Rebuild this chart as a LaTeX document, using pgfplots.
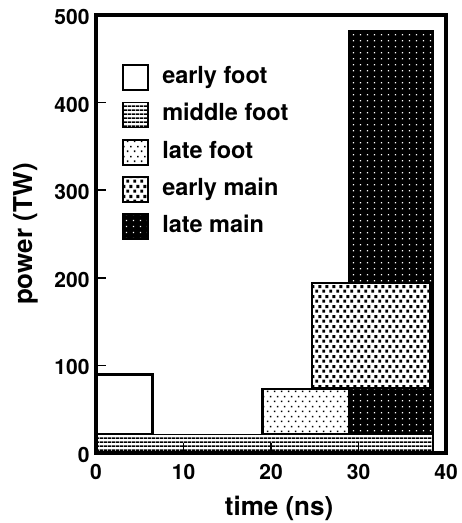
\documentclass[border=0pt]{standalone}
\usepackage{fontspec}
\setmainfont{TeX Gyre Heros}
\usepackage{pgfplots}
\pgfplotsset{compat=1.18}
\usetikzlibrary{patterns}

\pgfdeclarepatternformonly{hlinesP}{\pgfpoint{0pt}{0pt}}{\pgfpoint{4pt}{3.6pt}}{\pgfpoint{4pt}{3.6pt}}{%
  \pgfpathrectangle{\pgfpoint{-0.2pt}{0pt}}{\pgfpoint{4.4pt}{1.9pt}}\pgfusepath{fill}}
\pgfdeclarepatternformonly{sparsedots}{\pgfpoint{0pt}{0pt}}{\pgfpoint{7pt}{10pt}}{\pgfpoint{7pt}{10pt}}{%
  \pgfpathrectangle{\pgfpoint{1pt}{1pt}}{\pgfpoint{1.7pt}{1.7pt}}
  \pgfpathrectangle{\pgfpoint{4.5pt}{6pt}}{\pgfpoint{1.7pt}{1.7pt}}\pgfusepath{fill}}
\pgfdeclarepatternformonly{squaresP}{\pgfpoint{0pt}{0pt}}{\pgfpoint{7pt}{10pt}}{\pgfpoint{7pt}{10pt}}{%
  \pgfpathrectangle{\pgfpoint{0.3pt}{0.3pt}}{\pgfpoint{3.3pt}{3.3pt}}
  \pgfpathrectangle{\pgfpoint{3.8pt}{5.3pt}}{\pgfpoint{3.3pt}{3.3pt}}\pgfusepath{fill}}
\pgfdeclarepatternformonly{whitedots}{\pgfpoint{0pt}{0pt}}{\pgfpoint{6.5pt}{6pt}}{\pgfpoint{6.5pt}{6pt}}{%
  \pgfpathrectangle{\pgfpoint{2pt}{2pt}}{\pgfpoint{1.4pt}{1.4pt}}\pgfusepath{fill}}

\begin{document}
\begin{tikzpicture}
\begin{axis}[
  scale only axis, width=350pt, height=438pt,
  xmin=0, xmax=40, ymin=0, ymax=500,
  xtick={0,10,20,30,40}, ytick={0,100,200,300,400,500},
  tick align=inside, major tick length=10pt,
  xtick pos=bottom, ytick pos=left,
  tick style={line width=1.6pt, black},
  axis line style={line width=4pt},
  axis on top,
  /pgf/number format/assume math mode=true,
  tick label style={font=\fontsize{21}{21}\selectfont\bfseries},
  xticklabel style={yshift=-8pt},
  yticklabel style={xshift=-3pt, yshift=-2pt},
  label style={font=\fontsize{26}{26}\selectfont\bfseries},
  xlabel={time (ns)}, ylabel={power (TW)},
  xlabel style={at={(rel axis cs:0.523,0)}, anchor=center, yshift=-55pt},
  ylabel style={yshift=9pt},
  legend image code/.code={\draw[#1] (0pt,-12pt) rectangle (25pt,13pt);},
  legend style={draw=none, fill=none, at={(axis cs:3,444)}, anchor=north west,
    inner sep=0pt, row sep=10.5pt, column sep=13pt,
    font=\fontsize{23.5}{23.5}\selectfont\bfseries,
    nodes={text height=17pt, text depth=6pt, inner sep=0pt}},
  legend cell align=left,
]
\addlegendimage{draw=black, line width=1.8pt, fill=white}
\addlegendentry{early foot}
\addlegendimage{draw=black, line width=1.8pt, pattern=hlinesP}
\addlegendentry{middle foot}
\addlegendimage{draw=black, line width=1.8pt, pattern=sparsedots}
\addlegendentry{late foot}
\addlegendimage{draw=black, line width=1.8pt, pattern=squaresP}
\addlegendentry{early main}
\addlegendimage{draw=black, line width=1.8pt, fill=black, postaction={pattern=whitedots, pattern color=white}}
\addlegendentry{late main}

% late main
\addplot[forget plot, draw=black, line width=2pt, fill=black, postaction={pattern=whitedots, pattern color=white}]
  coordinates {(28.9,21) (38.5,21) (38.5,482) (28.9,482)} -- cycle;
% early main
\addplot[forget plot, draw=black, line width=2.5pt, fill=white, postaction={pattern=squaresP}]
  coordinates {(24.7,74) (38.2,74) (38.2,194) (24.7,194)} -- cycle;
% late foot
\addplot[forget plot, draw=black, line width=2.5pt, fill=white, postaction={pattern=sparsedots}]
  coordinates {(19.0,21) (28.9,21) (28.9,73) (19.0,73)} -- cycle;
% early foot
\addplot[forget plot, draw=black, line width=3pt, fill=white]
  coordinates {(0,21) (6.5,21) (6.5,90) (0,90)} -- cycle;
% middle foot
\addplot[forget plot, draw=black, line width=1.5pt, fill=white, postaction={pattern=hlinesP}]
  coordinates {(0,0) (38.5,0) (38.5,21) (0,21)} -- cycle;

\coordinate (bl) at (rel axis cs:0,0);
\coordinate (tr) at (rel axis cs:1,1);
\end{axis}
\pgfresetboundingbox
\path ([shift={(-96pt,-70pt)}]bl) rectangle ([shift={(15pt,15pt)}]tr);
\end{tikzpicture}
\end{document}
